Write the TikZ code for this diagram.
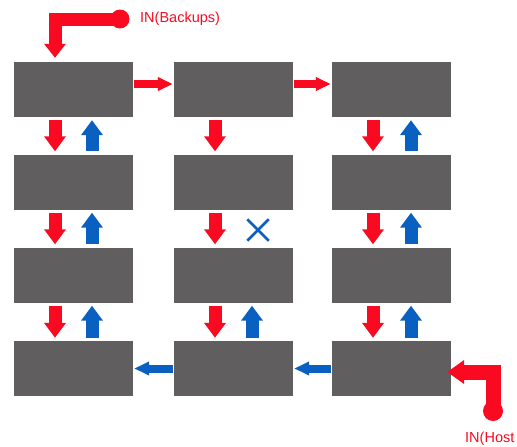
\documentclass[tikz,border=0pt]{standalone}
\usepackage{fontspec}
\setmainfont{Liberation Sans}
\usepackage{tikz}
\usetikzlibrary{arrows.meta}
\usetikzlibrary{shapes.misc}
\usepackage{xcolor}
\definecolor{ColRed}{RGB}{250,10,32}
\definecolor{ColBlue}{RGB}{10,96,192}
\definecolor{ColBox}{RGB}{97,94,95}
\tikzstyle{BoxUnit}=[rectangle,fill=ColBox,inner sep=0pt,minimum width=119pt,minimum height=55pt]
\tikzstyle{DownArrow}=[ColRed,line width=13pt,-{Triangle[width=21pt,length=15pt]},shorten <=3pt,shorten >=3pt]
\tikzstyle{UpArrow}=[ColBlue,line width=13pt,-{Triangle[width=21pt,length=15pt]},shorten <=3pt,shorten >=3pt]
\tikzstyle{SideArrow}=[line width=8pt,-{Triangle[width=13pt,length=15pt]},shorten <=1pt,shorten >=1pt]
\tikzstyle{InArrow}=[ColRed,line width=13pt,line join=miter,-{Triangle[width=21pt,length=14pt]}]
\tikzstyle{InLabel}=[ColRed,anchor=west,inner sep=0pt,font=\fontsize{14.5}{16}\selectfont]
\tikzstyle{XMark}=[cross out,draw=ColBlue,line width=2.5pt,minimum size=19pt,inner sep=0pt]

\begin{document}
\begin{tikzpicture}[x=1pt,y=-1pt]
        \useasboundingbox(0,0)rectangle(517,447);
        % four rows of three units
        \node[BoxUnit](a1)at(73.5,89.5){};
        \node[BoxUnit](b1)at(233.5,89.5){};
        \node[BoxUnit](c1)at(391.5,89.5){};
        \node[BoxUnit](a2)at(73.5,182){};
        \node[BoxUnit](b2)at(233.5,182){};
        \node[BoxUnit](c2)at(391.5,182){};
        \node[BoxUnit](a3)at(73.5,275){};
        \node[BoxUnit](b3)at(233.5,275){};
        \node[BoxUnit](c3)at(391.5,275){};
        \node[BoxUnit](a4)at(73.5,368.5){};
        \node[BoxUnit](b4)at(233.5,368.5){};
        \node[BoxUnit](c4)at(391.5,368.5){};
        % top row, to the right
        \draw[SideArrow,ColRed]([yshift=5.5pt]a1.east)--([yshift=5.5pt]b1.west);
        \draw[SideArrow,ColRed]([yshift=5.5pt]b1.east)--([yshift=5.5pt]c1.west);
        % bottom row, to the left
        \draw[SideArrow,ColBlue](c4.west)--(b4.east);
        \draw[SideArrow,ColBlue](b4.west)--(a4.east);
        % first column
        \draw[DownArrow]([xshift=-18.5pt]a1.south)--([xshift=-18.5pt]a2.north);
        \draw[UpArrow]([xshift=18.5pt]a2.north)--([xshift=18.5pt]a1.south);
        \draw[DownArrow]([xshift=-18.5pt]a2.south)--([xshift=-18.5pt]a3.north);
        \draw[UpArrow]([xshift=18.5pt]a3.north)--([xshift=18.5pt]a2.south);
        \draw[DownArrow]([xshift=-18.5pt]a3.south)--([xshift=-18.5pt]a4.north);
        \draw[UpArrow]([xshift=18.5pt]a4.north)--([xshift=18.5pt]a3.south);
        % second column
        \draw[DownArrow]([xshift=-18.5pt]b1.south)--([xshift=-18.5pt]b2.north);
        \draw[DownArrow]([xshift=-18.5pt]b2.south)--([xshift=-18.5pt]b3.north);
        \node[XMark](nx)at(258,230){};
        \draw[DownArrow]([xshift=-18.5pt]b3.south)--([xshift=-18.5pt]b4.north);
        \draw[UpArrow]([xshift=18.5pt]b4.north)--([xshift=18.5pt]b3.south);
        % third column
        \draw[DownArrow]([xshift=-18.5pt]c1.south)--([xshift=-18.5pt]c2.north);
        \draw[UpArrow]([xshift=19.5pt]c2.north)--([xshift=19.5pt]c1.south);
        \draw[DownArrow]([xshift=-18.5pt]c2.south)--([xshift=-18.5pt]c3.north);
        \draw[UpArrow]([xshift=19.5pt]c3.north)--([xshift=19.5pt]c2.south);
        \draw[DownArrow]([xshift=-18.5pt]c3.south)--([xshift=-18.5pt]c4.north);
        \draw[UpArrow]([xshift=19.5pt]c4.north)--([xshift=19.5pt]c3.south);
        % inputs
        \coordinate(bk)at(120,19);
        \fill[ColRed](bk)circle(9.5);
        \draw[InArrow,shorten >=4pt](bk)-|([xshift=-18.5pt]a1.north);
        \node[InLabel](lbk)at(140,19){IN(Backups)};
        \coordinate(hs)at(493,411);
        \fill[ColRed](hs)circle(10);
        \draw[InArrow,line width=15pt,shorten >=-4pt,-{Triangle[width=23pt,length=17pt]}](hs)|-([yshift=-3.5pt]c4.east);
        \node[InLabel](lhs)at(465,439){IN(Host};
    \end{tikzpicture}
\end{document}
